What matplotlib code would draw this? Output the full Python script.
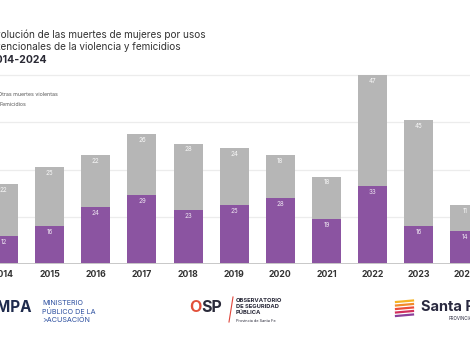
import numpy as np
import matplotlib.pyplot as plt
from matplotlib.lines import Line2D

plt.rcParams['font.family'] = ['Inter', 'DejaVu Sans']

years = ['2014', '2015', '2016', '2017', '2018', '2019', '2020', '2021', '2022', '2023', '2024']
femicidios = [12, 16, 24, 29, 23, 25, 28, 19, 33, 16, 14]
otras = [22, 25, 22, 26, 28, 24, 18, 18, 47, 45, 11]

purple = '#8b54a1'
grey = '#b6b6b6'

W, H = 470, 340


def px(x, y):
    # pixel coords (from top-left) -> figure fraction
    return x / W, 1 - y / H


fig = plt.figure(figsize=(4.7, 3.4), dpi=100)
fig.patch.set_facecolor('white')

# axes spans full width; baseline at y=264 px, 2.3625 px per unit
base = 264
scale = 2.3625
ax = fig.add_axes([0, (H - base) / H, 1, base / H])
ax.set_facecolor('none')
ax.set_ylim(0, base / scale)
ax.set_xlim(-3.5 / 46.15, 10 + 5 / 46.15)

x = np.arange(len(years))
ax.bar(x, femicidios, width=0.63, color=purple, zorder=3)
ax.bar(x, otras, width=0.63, bottom=femicidios, color=grey, zorder=3)

for i in range(len(years)):
    ax.text(x[i], femicidios[i] - 2.5, str(femicidios[i]), ha='center', va='center',
            fontsize=4.5, color='white', alpha=0.85, zorder=4)
    top = femicidios[i] + otras[i]
    ax.text(x[i], top - 2.5, str(otras[i]), ha='center', va='center',
            fontsize=4.5, color='white', alpha=0.9, zorder=4)

for g in [20, 40, 60, 80]:
    ax.axhline(g, color='#ececec', lw=0.9, zorder=1)
ax.axhline(0, color='#c8c8c8', lw=1.4, zorder=4)

ax.set_xticks(x)
ax.set_xticklabels(years, fontsize=6.3, fontweight='bold', color='#333333')
ax.tick_params(axis='x', length=0, pad=4)
ax.set_yticks([])
for s in ax.spines.values():
    s.set_visible(False)

# title (left part cut off, as in the screenshot)
fig.text(*px(-11, 35), 'Evolución de las muertes de mujeres por usos', fontsize=7.2,
         color='#333333', va='center', ha='left')
fig.text(*px(-11, 47), 'intencionales de la violencia y femicidios', fontsize=7.2,
         color='#333333', va='center', ha='left')
fig.text(*px(-11, 60), '2014-2024', fontsize=7.5, fontweight='bold',
         color='#2a2a35', va='center', ha='left')

# legend text (markers cut off at the left edge)
fig.text(*px(-2, 95), 'Otras muertes violentas', fontsize=3.8, color='#555555', va='center')
fig.text(*px(-1, 104.5), 'Femicidios', fontsize=3.8, color='#555555', va='center')

# logos at bottom
fig.text(*px(-4, 307), 'MPA', fontsize=11, fontweight='bold', color='#1f2b4d', va='center')
for yy, t in zip([303, 311.5, 320], ['MINISTERIO', 'PÚBLICO DE LA', '>ACUSACIÓN']):
    fig.text(*px(42, yy), t, fontsize=5.2, color='#2d50a0', va='center')

fig.text(*px(189, 307), 'O', fontsize=11.5, fontweight='bold', color='#e2503a', va='center')
fig.text(*px(201, 307), 'SP', fontsize=11.5, fontweight='bold', color='#2a2a3a', va='center')
fig.add_artist(Line2D([229 / W, 233 / W], [1 - 322 / H, 1 - 297 / H], color='#e0453a', lw=0.8))
for yy, t in zip([300, 306.5, 313], ['OBSERVATORIO', 'DE SEGURIDAD', 'PÚBLICA']):
    fig.text(*px(236, yy), t, fontsize=4.2, fontweight='bold', color='#2a2a3a', va='center')
fig.text(*px(236, 320.5), 'Provincia de Santa Fe', fontsize=2.8, color='#2a2a3a', va='center')

stripes = ['#f5b324', '#f28a2a', '#ea4d3a', '#d12f5d', '#8b3f9a']
for k, c in enumerate(stripes):
    y0 = 300.5 + k * 3.5
    fig.add_artist(Line2D([396 / W, 413 / W], [1 - (y0 + 1.5) / H, 1 - y0 / H], color=c, lw=1.6))
fig.text(*px(421, 307), 'Santa Fe', fontsize=10.5, fontweight='bold', color='#2a2a40', va='center')
fig.text(*px(449, 318.5), 'PROVINCIA', fontsize=3.2, color='#2a2a40', va='center')

fig.savefig('out.png', dpi=100)
